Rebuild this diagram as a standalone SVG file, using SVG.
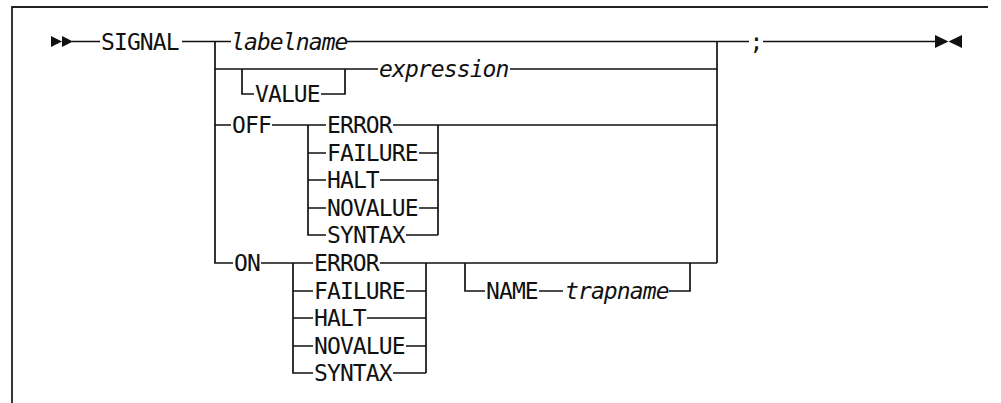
<svg xmlns="http://www.w3.org/2000/svg" width="1001" height="403" viewBox="0 0 1001 403">
<style>
.ln{fill:none;stroke:#111;stroke-width:1.7}
.fr{fill:none;stroke:#222;stroke-width:1.8}
.t{font-family:"DejaVu Sans Mono","Liberation Mono",monospace;font-size:23px;letter-spacing:-0.9px;fill:#111}
.i{font-style:italic}
.ar{fill:#111}
</style>
<rect width="1001" height="403" fill="#fff"/>
<g id="frame"><path class="fr" d="M12,403 V7 H988"/></g>
<g id="connectors">
<path class="ln" d="M72,41.5 H100 M182,41.5 H231 M347,41.5 H749 M763,41.5 H935"/>
<path class="ln" d="M215,41.5 V263 H233"/>
<path class="ln" d="M717,41.5 V263"/>
<path class="ln" d="M215,69 H378 M510,69 H717"/>
<path class="ln" d="M242,69 V94 H254 M321,94 H345 V69"/>
<path class="ln" d="M215,125 H231 M272,125 H326 M393,125 H717"/>
<path class="ln" d="M308,125 V235 H326 M308,153 H326 M308,180 H326 M308,208 H326"/>
<path class="ln" d="M419,153 H438 M380,180 H438 M419,208 H438 M406,235 H438 M438,125 V235"/>
<path class="ln" d="M261,263 H313 M380,263 H717"/>
<path class="ln" d="M293,263 V373 H313 M293,291 H313 M293,318 H313 M293,346 H313"/>
<path class="ln" d="M406,291 H426 M367,318 H426 M406,346 H426 M393,373 H426 M426,263 V373"/>
<path class="ln" d="M465,263 V291 H485 M539,291 H563 M669,291 H690 V263"/>
</g>
<g id="markers">
<path class="ar" d="M51,36 L62,41.5 L51,47 Z M62,36 L73,41.5 L62,47 Z"/>
<path class="ar" d="M935,35 L948.5,41.5 L935,48 Z M962,35 L948.5,41.5 L962,48 Z"/>
</g>
<g id="n-signal"><text class="t" x="101" y="49.5">SIGNAL</text></g>
<g id="n-labelname"><text class="t i" x="231" y="49.5">labelname</text></g>
<g id="n-semicolon"><text class="t" x="749.5" y="49.5">;</text></g>
<g id="n-value"><text class="t" x="255" y="102">VALUE</text></g>
<g id="n-expression"><text class="t i" x="379" y="77">expression</text></g>
<g id="n-off"><text class="t" x="232" y="133">OFF</text></g>
<g id="n-off-error"><text class="t" x="327" y="133">ERROR</text></g>
<g id="n-off-failure"><text class="t" x="327" y="161">FAILURE</text></g>
<g id="n-off-halt"><text class="t" x="327" y="188">HALT</text></g>
<g id="n-off-novalue"><text class="t" x="327" y="216">NOVALUE</text></g>
<g id="n-off-syntax"><text class="t" x="327" y="243">SYNTAX</text></g>
<g id="n-on"><text class="t" x="234" y="271">ON</text></g>
<g id="n-on-error"><text class="t" x="314" y="271">ERROR</text></g>
<g id="n-on-failure"><text class="t" x="314" y="299">FAILURE</text></g>
<g id="n-on-halt"><text class="t" x="314" y="326">HALT</text></g>
<g id="n-on-novalue"><text class="t" x="314" y="354">NOVALUE</text></g>
<g id="n-on-syntax"><text class="t" x="314" y="381">SYNTAX</text></g>
<g id="n-name"><text class="t" x="486" y="299">NAME</text></g>
<g id="n-trapname"><text class="t i" x="565" y="299">trapname</text></g>
</svg>
